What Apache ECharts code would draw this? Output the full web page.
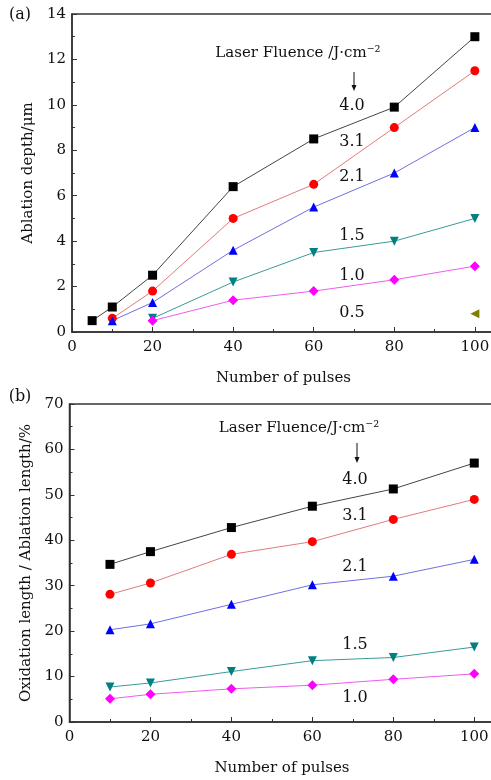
<!DOCTYPE html>
<html>
<head>
<meta charset="utf-8">
<script src="https://cdn.jsdelivr.net/npm/echarts@6/dist/echarts.min.js"></script>
<style>
  html, body { margin: 0; padding: 0; background: #fff; overflow: hidden; }
  #chart { width: 491px; height: 780px; }
</style>
</head>
<body>
<div id="chart"></div>
<script>
// panel (a): ablation depth vs number of pulses
const depthX40 = [5, 10, 20, 40, 60, 80, 100]
const depth40 = [0.5, 1.1, 2.5, 6.4, 8.5, 9.9, 13.0]
const depthX31 = [10, 20, 40, 60, 80, 100]
const depth31 = [0.6, 1.8, 5.0, 6.5, 9.0, 11.5]
const depth21 = [0.5, 1.3, 3.6, 5.5, 7.0, 9.0]
const depthX15 = [20, 40, 60, 80, 100]
const depth15 = [0.6, 2.2, 3.5, 4.0, 5.0]
const depth10 = [0.5, 1.4, 1.8, 2.3, 2.9]
const depthX05 = [100]
const depth05 = [0.8]

// panel (b): oxidation length / ablation length
const pulsesB = [10, 20, 40, 60, 80, 100]
const ratio40 = [34.7, 37.5, 42.8, 47.5, 51.3, 57.0]
const ratio31 = [28.1, 30.6, 36.9, 39.7, 44.6, 49.0]
const ratio21 = [20.3, 21.6, 25.9, 30.2, 32.1, 35.8]
const ratio15 = [7.7, 8.6, 11.1, 13.5, 14.2, 16.5]
const ratio10 = [5.1, 6.1, 7.3, 8.1, 9.4, 10.6]

const fluenceA = ['4.0', '3.1', '2.1', '1.5', '1.0', '0.5']
const fluenceB = ['4.0', '3.1', '2.1', '1.5', '1.0']

const FONT = '"DejaVu Serif", serif'

function zip (xs, ys) {
  return xs.map(function (x, i) { return [x, ys[i]] })
}

function lineSeries (idx, data, lineColor, markColor, symbol, rotate) {
  return {
    type: 'line',
    xAxisIndex: idx,
    yAxisIndex: idx,
    data: data,
    symbol: symbol,
    symbolSize: symbol === 'diamond' ? 10 : 9,
    symbolRotate: rotate || 0,
    showAllSymbol: true,
    lineStyle: {color: lineColor, width: 1},
    itemStyle: {color: markColor},
    animation: false
  }
}

function xAxisCfg (idx) {
  return {
    type: 'value',
    gridIndex: idx,
    min: 0,
    max: 105,
    interval: 20,
    name: 'Number of pulses',
    nameLocation: 'middle',
    nameGap: 39,
    nameTextStyle: {fontFamily: FONT, fontSize: 15, color: '#111'},
    axisLine: {lineStyle: {color: '#333', width: 1.5}},
    axisTick: {inside: true, length: 5, lineStyle: {color: '#333'}},
    minorTick: {show: true, splitNumber: 2, length: 3, lineStyle: {color: '#333'}},
    axisLabel: {fontFamily: FONT, fontSize: 15, color: '#111', margin: 8, showMaxLabel: false},
    splitLine: {show: false}
  }
}

function yAxisCfg (idx, max, interval, name) {
  return {
    type: 'value',
    gridIndex: idx,
    min: 0,
    max: max,
    interval: interval,
    name: name,
    nameLocation: 'middle',
    nameGap: 36,
    nameTextStyle: {fontFamily: FONT, fontSize: 15, color: '#111'},
    axisLine: {show: true, lineStyle: {color: '#333', width: 1.5}},
    axisTick: {inside: true, length: 5, lineStyle: {color: '#333'}},
    minorTick: {show: true, splitNumber: 2, length: 3, lineStyle: {color: '#333'}},
    axisLabel: {fontFamily: FONT, fontSize: 15, color: '#111', margin: 6},
    splitLine: {show: false}
  }
}

function txt (x, y, s, size) {
  return {
    type: 'text',
    x: x,
    y: y,
    style: {text: s, font: (size || 15) + 'px ' + FONT, fill: '#111', align: 'center', verticalAlign: 'middle'}
  }
}

function arrow (x, y1, y2) {
  return [
    {type: 'line', shape: {x1: x, y1: y1, x2: x, y2: y2 - 4}, style: {stroke: '#111', lineWidth: 1}},
    {type: 'polygon', shape: {points: [[x - 2.5, y2 - 6], [x + 2.5, y2 - 6], [x, y2]]}, style: {fill: '#111'}}
  ]
}

let graphics = [
  txt(20, 15, '(a)', 16),
  txt(20, 397, '(b)', 16),
  txt(298, 53, 'Laser Fluence /J·cm⁻²', 15),
  txt(299, 428, 'Laser Fluence/J·cm⁻²', 15)
]
graphics = graphics.concat(arrow(354, 72, 91), arrow(357, 443, 463))
let labelYA = [106, 142, 177, 236, 276, 313]
fluenceA.forEach(function (f, i) { graphics.push(txt(352, labelYA[i], f, 16)) })
let labelYB = [480, 516, 567, 645, 698]
fluenceB.forEach(function (f, i) { graphics.push(txt(355, labelYB[i], f, 16)) })

let chart = echarts.init(document.getElementById('chart'))
chart.setOption({
  animation: false,
  grid: [
    {left: 72, top: 14, width: 423, height: 318, outerBoundsMode: 'none', show: true, borderColor: '#333', borderWidth: 1.5},
    {left: 69.5, top: 404, width: 425, height: 318, outerBoundsMode: 'none', show: true, borderColor: '#333', borderWidth: 1.5}
  ],
  xAxis: [xAxisCfg(0), xAxisCfg(1)],
  yAxis: [
    yAxisCfg(0, 14, 2, 'Ablation depth/μm'),
    yAxisCfg(1, 70, 10, 'Oxidation length / Ablation length/%')
  ],
  series: [
    lineSeries(0, zip(depthX40, depth40), '#444', '#000', 'rect'),
    lineSeries(0, zip(depthX31, depth31), '#e07b7b', '#ff0000', 'circle'),
    lineSeries(0, zip(depthX31, depth21), '#6f6fe0', '#0000ff', 'triangle'),
    lineSeries(0, zip(depthX15, depth15), '#3a9a9a', '#008080', 'triangle', 180),
    lineSeries(0, zip(depthX15, depth10), '#ee5cee', '#ff00ff', 'diamond'),
    lineSeries(0, zip(depthX05, depth05), '#808000', '#808000', 'triangle', 90),
    lineSeries(1, zip(pulsesB, ratio40), '#444', '#000', 'rect'),
    lineSeries(1, zip(pulsesB, ratio31), '#e07b7b', '#ff0000', 'circle'),
    lineSeries(1, zip(pulsesB, ratio21), '#6f6fe0', '#0000ff', 'triangle'),
    lineSeries(1, zip(pulsesB, ratio15), '#3a9a9a', '#008080', 'triangle', 180),
    lineSeries(1, zip(pulsesB, ratio10), '#ee5cee', '#ff00ff', 'diamond')
  ],
  graphic: graphics
})
</script>
</body>
</html>
